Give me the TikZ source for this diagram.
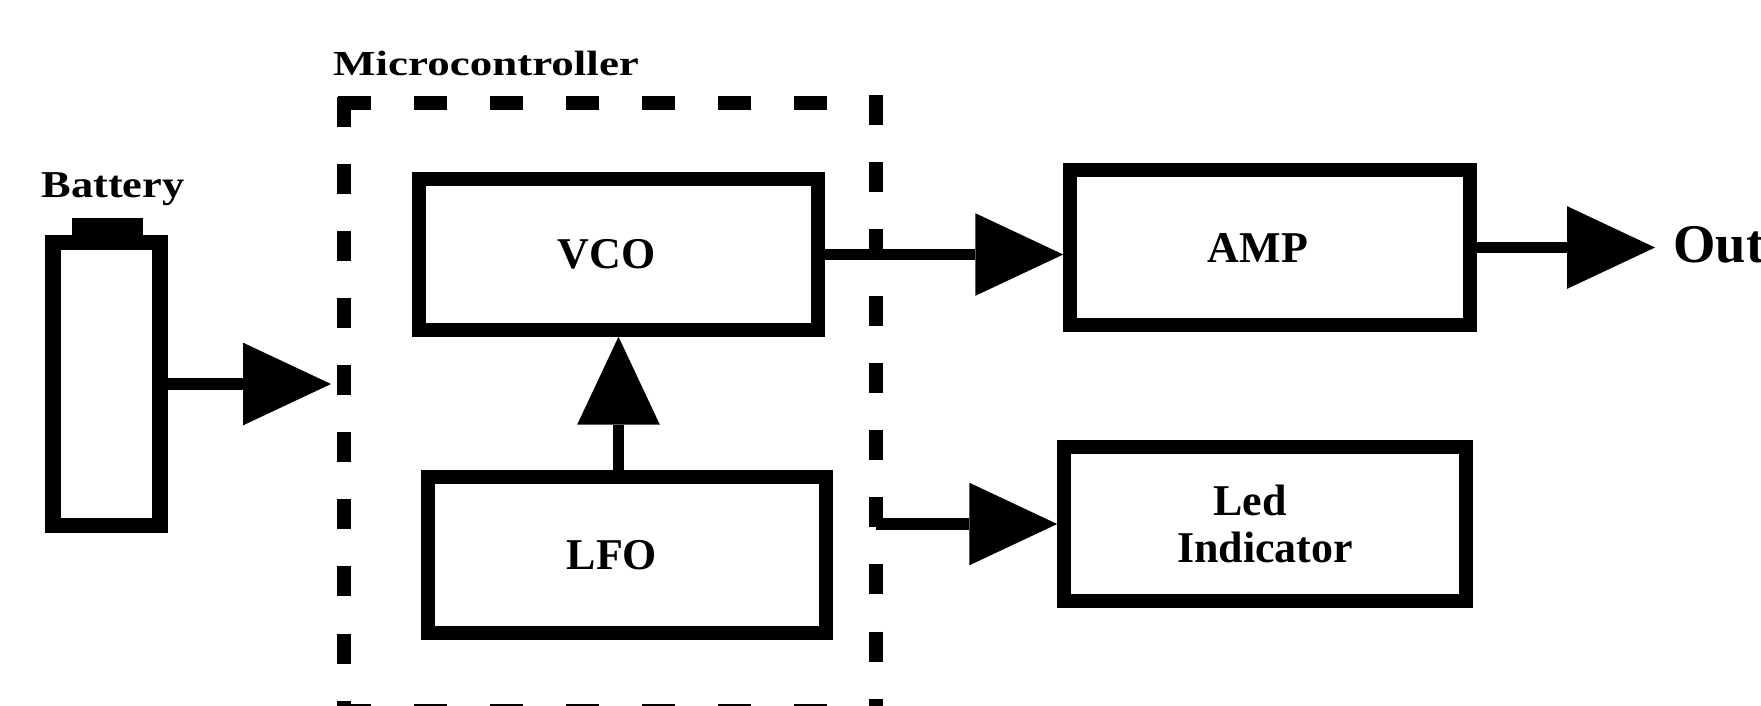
\documentclass[tikz,border=0pt]{standalone}
\usepackage{fontspec}
\setmainfont{Liberation Serif}
\usepackage{graphicx}
\usetikzlibrary{arrows.meta}
\begin{document}
\begin{tikzpicture}[x=0.01cm, y=-0.01cm,
  box/.style={draw, line width=3.8pt, rectangle, inner sep=0pt,
    font=\fontsize{12.5}{13.4}\selectfont\bfseries, align=center},
  arr/.style={line width=3.2pt, -{Triangle[length=25pt,width=23.5pt,line width=0pt]}},
  mcdashv/.style={line width=4pt, dash pattern=on 8.54pt off 10.53pt},
  mcdashh/.style={line width=4pt, dash pattern=on 9.39pt off 12.23pt},
  lbl/.style={anchor=base, inner sep=0pt}
]
\useasboundingbox (0,0) rectangle (1761,705);

% microcontroller dashed frame
\draw[mcdashh] (338,103) -- (850,103);
\draw[mcdashh] (338,711) -- (850,711);
\draw[mcdashv] (344,97) -- (344,711);
\draw[mcdashv] (876,95) -- (876,711);
\node[lbl, font=\fontsize{10}{12}\selectfont\bfseries] (mclabel) at (486,75) {\scalebox{1.28}[1]{Microcontroller}};

% battery
\node[draw, line width=4.3pt, minimum width=1.07cm, minimum height=2.82cm, inner sep=0pt] (bat) at (106.5,384) {};
\fill (72,218) rectangle (143,238);
\node[lbl, font=\fontsize{10.8}{12}\selectfont\bfseries] (batlabel) at (113,197) {\scalebox{1.17}[1]{Battery}};

% blocks
\node[box, minimum width=3.99cm, minimum height=1.51cm] (vco) at (618.5,254.5) {\hspace*{-0.24cm}VCO};
\node[box, minimum width=3.98cm, minimum height=1.56cm] (lfo) at (627,555) {\hspace*{-0.3cm}LFO};
\node[box, minimum width=4.00cm, minimum height=1.55cm] (amp) at (1270,247.5) {\hspace*{-0.24cm}AMP};
\node[box, minimum width=4.02cm, minimum height=1.54cm] (led) at (1265,524) {\hspace*{-0.3cm}Led\\Indicator};
\node[anchor=west, font=\fontsize{15.5}{18}\selectfont\bfseries, inner sep=5pt] (out) at (1655,245) {Out};

% connectors
\coordinate (mcin) at (331,384);
\coordinate (mcout) at (876,524);
\draw[arr] (bat.east) -- (mcin);
\draw[arr] (lfo.north -| vco.south) -- (vco.south);
\draw[arr] (vco.east) -- (vco.east -| amp.west);
\draw[arr] (amp.east) -- (amp.east -| out.west);
\draw[arr] (mcout) -- (led.west);
\end{tikzpicture}
\end{document}
